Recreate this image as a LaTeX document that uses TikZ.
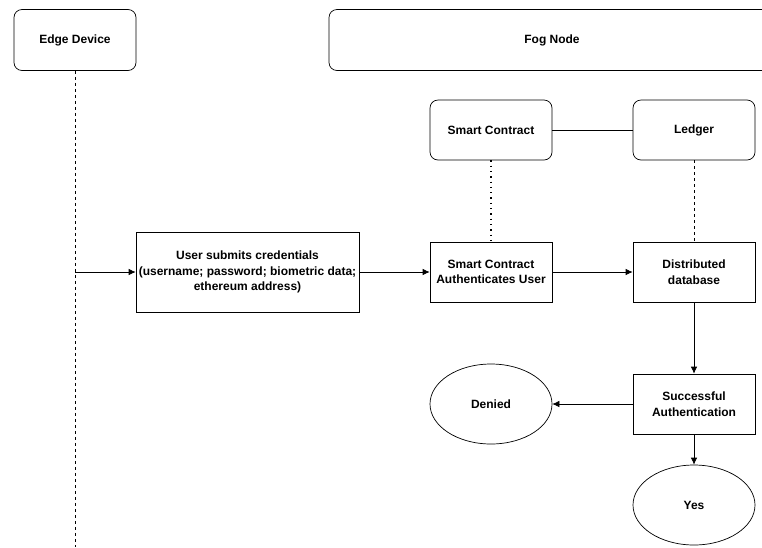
\documentclass[tikz,border=0pt]{standalone}
\usepackage{fontspec}
\setmainfont{Liberation Sans}
\usetikzlibrary{shapes.geometric,arrows.meta}
\begin{document}
\begin{tikzpicture}[x=1pt,y=-1pt,
  every node/.style={font=\fontsize{12}{15.5}\selectfont\bfseries, align=center},
  lane/.style={draw, rounded corners=8pt, line width=0.7pt, minimum height=61pt, inner sep=0pt},
  rbox/.style={draw, rounded corners=8pt, line width=0.7pt, minimum width=122pt, minimum height=60pt, inner sep=0pt},
  sbox/.style={draw, line width=0.7pt, minimum width=122pt, minimum height=60pt, inner sep=0pt},
  oval/.style={draw, ellipse, line width=0.7pt, minimum width=122pt, minimum height=80pt, inner sep=0pt},
  flow/.style={line width=0.7pt, -{Latex[length=7pt,width=6.5pt]}},
  link/.style={line width=0.7pt},
  life/.style={line width=0.7pt, dash pattern=on 3pt off 3pt},
  dotline/.style={line width=1.3pt, dash pattern=on 1.3pt off 4pt}
]
\useasboundingbox (0,0) rectangle (762,547);
\clip (0,0) rectangle (762,547);
\fill[white] (0,0) rectangle (762,547);

% swimlane heads
\node[lane, minimum width=122pt] (edge) at (75,40) {Edge Device};
\node[lane, minimum width=446pt] (fog) at (552,40) {Fog Node};
\coordinate (lifeend) at (75,547);
\draw[life] (edge.south) -- (lifeend);

% blockchain components
\node[rbox] (sc) at (491,130) {Smart Contract};
\node[rbox] (ledger) at (694,130) {Ledger};

% authentication flow
\node[draw, line width=0.7pt, minimum width=223pt, minimum height=80pt, inner sep=0pt] (cred) at (247.5,272)
  {User submits credentials\\(username; password; biometric data;\\ethereum address)};
\node[sbox] (auth) at (491,272) {Smart Contract\\Authenticates User};
\node[sbox] (db) at (694,272) {Distributed\\database};
\node[sbox] (succ) at (694,404) {Successful\\Authentication};
\node[oval] (denied) at (491,404) {Denied};
\node[oval] (yes) at (694,505) {Yes};

\coordinate (src) at (75,272);
\draw[flow] (src) -- (cred.west);
\draw[flow] (cred.east) -- (auth.west);
\draw[flow] (auth.east) -- (db.west);
\draw[flow] (db.south) -- (succ.north);
\draw[flow] (succ.west) -- (denied.east);
\draw[flow] (succ.south) -- (yes.north);

\draw[link] (sc.east) -- (ledger.west);
\draw[dotline] (sc.south) -- (auth.north);
\draw[life] (ledger.south) -- (db.north);
\end{tikzpicture}
\end{document}
